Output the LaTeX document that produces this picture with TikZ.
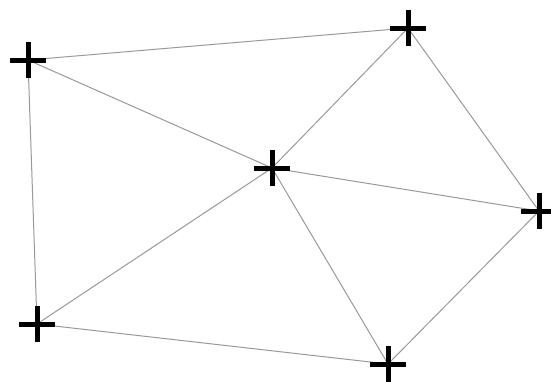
\documentclass[tikz,border=0pt]{standalone}
\usetikzlibrary{backgrounds}

\tikzset{
  site/.style={inner sep=0pt,minimum size=18pt,
    path picture={
      \draw[line width=2.5pt,black]
        (path picture bounding box.west) -- (path picture bounding box.east)
        (path picture bounding box.north) -- (path picture bounding box.south);}},
  edge/.style={draw=gray!80,line width=0.5pt}
}

\begin{document}
\begin{tikzpicture}[x=0.5pt,y=-0.5pt]
  \useasboundingbox (0,0) rectangle (551,381);
  % sites
  \node[site] (p1) at (28,60) {};
  \node[site] (p2) at (408,28) {};
  \node[site] (p3) at (272,168) {};
  \node[site] (p4) at (539,211) {};
  \node[site] (p5) at (37,324) {};
  \node[site] (p6) at (388,364) {};
  % triangulation
  \begin{pgfonlayer}{background}
    \foreach \a/\b in {p1/p2,p1/p3,p1/p5,p2/p3,p2/p4,p3/p4,p3/p5,p3/p6,p5/p6,p6/p4}
      \draw[edge] (\a.center) -- (\b.center);
  \end{pgfonlayer}
\end{tikzpicture}
\end{document}
